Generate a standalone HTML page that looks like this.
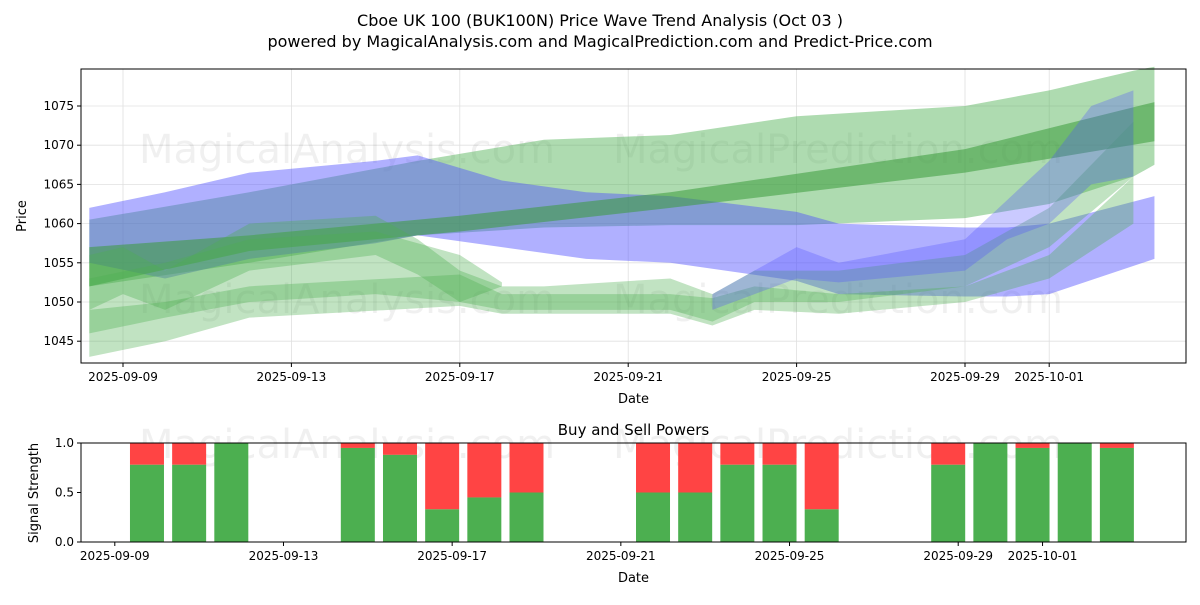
<!DOCTYPE html>
<html><head><meta charset="utf-8"><style>
body{margin:0;background:#fff;font-family:"Liberation Sans","DejaVu Sans",sans-serif}
svg text{font-family:"DejaVu Sans","Liberation Sans",sans-serif}
</style></head><body>
<svg id="c" width="1200" height="600" viewBox="0 0 1200 600">
<text x="600" y="26" text-anchor="middle" font-size="16">Cboe UK 100 (BUK100N) Price Wave Trend Analysis (Oct 03 )</text>
<text x="600" y="47" text-anchor="middle" font-size="16">powered by MagicalAnalysis.com and MagicalPrediction.com and Predict-Price.com</text>
<g id="topPanel"></g>
<g id="botPanel"></g>
</svg>
<script>
// days relative to 2025-09-09
const topTickDays=[0,4,8,12,16,20,22];
const topTickLabels=["2025-09-09","2025-09-13","2025-09-17","2025-09-21","2025-09-25","2025-09-29","2025-10-01"];
const priceTicks=[1045,1050,1055,1060,1065,1070,1075];
const blueWideDays=[-0.8,1,3,6,7,9,11,13,16,17,20,21,22,24.5];
const blueWideUp=[1062,1064,1066.5,1068,1068.7,1065.5,1064,1063.5,1061.5,1060,1059.5,1059.5,1060,1063.5];
const blueWideLo=[1055,1053,1055.5,1057.5,1058.5,1057,1055.5,1055,1052.7,1051,1050.7,1050.7,1051,1055.5];
const greenWideDays=[-0.8,3,7,10,13,16,20,22,24,24.5];
const greenWideUp=[1060.5,1064,1068,1070.7,1071.3,1073.7,1075,1077,1079.5,1080];
const greenWideLo=[1052,1055,1058.5,1059.5,1059.8,1059.8,1060.7,1062.5,1066,1067.5];
const greenMidDays=[-0.8,3,8,13,20,24.5];
const greenMidUp=[1057,1058.5,1061,1064,1069.5,1075.5];
const greenMidLo=[1052,1056.5,1059,1062,1066.5,1070.5];
const greenLowDays=[-0.8,1,3,8,9,13,14,15,17,20,22,24];
const greenLowUp=[1049,1050,1052,1053.5,1051,1051,1050.5,1052,1051,1052,1056,1066];
const greenLowLo=[1043,1045,1048,1049.5,1048.5,1048.5,1047,1049,1048.5,1050,1053,1060];
const greenFillDays=[-0.8,1,3,6,8,9];
const greenFillUp=[1053,1055,1058,1059,1056,1052.5];
const greenFillLo=[1046,1048,1050,1051,1050,1052];
const greenWavDays=[-0.8,0,1,3,6,7,8,9,10,13,14,15,17,20,22,24];
const greenWavUp=[1056,1057,1054,1060,1061,1058,1054,1052,1052,1053,1051,1054,1054,1056,1062,1073];
const greenWavLo=[1049,1051,1049,1054,1056,1053.5,1050,1049,1049,1049,1047.5,1050,1050,1052,1057,1066];
const blueWavDays=[14,16,17,20,21,22,23,24];
const blueWavUp=[1051,1057,1055,1058,1063,1068,1075,1077];
const blueWavLo=[1049,1053,1052.5,1054,1058,1060,1065,1066];
// bottom
const barDays=[1,2,3,6,7,8,9,10,13,14,15,16,17,20,21,22,23,24];
const buyPower=[0.78,0.78,1.0,0.95,0.88,0.33,0.45,0.5,0.5,0.5,0.78,0.78,0.33,0.78,1.0,0.95,1.0,0.95];
const sigTicks=[0,0.5,1.0];
const sigTickLabels=["0.0","0.5","1.0"];

const NS="http://www.w3.org/2000/svg";
function mk(parent,tag,attrs,text){const e=document.createElementNS(NS,tag);for(const k in attrs)e.setAttribute(k,attrs[k]);if(text!==undefined)e.textContent=text;parent.appendChild(e);return e;}
const T={l:81,r:1186,t:69,b:363};
const xT=d=>123+d*42.1;
const yT=v=>302-(v-1050)*7.84;
const topG=document.getElementById('topPanel');
priceTicks.forEach((v,i)=>{
 const g=mk(topG,'line',{x1:T.l,x2:T.r,y1:yT(v),y2:yT(v),stroke:'#e0e0e0','stroke-width':0.8});
 
 
 mk(topG,'line',{x1:T.l-4,x2:T.l,y1:yT(v),y2:yT(v),stroke:'#000'});
 const t=mk(topG,'text',{x:T.l-7,y:yT(v)+4,'text-anchor':'end','font-size':12},String(v));
 
 
});
topTickDays.forEach((d,i)=>{
 const g=mk(topG,'line',{x1:xT(d),x2:xT(d),y1:T.t,y2:T.b,stroke:'#e0e0e0','stroke-width':0.8});
 
 
 mk(topG,'line',{x1:xT(d),x2:xT(d),y1:T.b,y2:T.b+4,stroke:'#000'});
 const t=mk(topG,'text',{x:xT(d),y:T.b+18,'text-anchor':'middle','font-size':12},topTickLabels[i]);
 
 
});
[["MagicalAnalysis.com",347,163],["MagicalPrediction.com",838,163],["MagicalAnalysis.com",347,313],["MagicalPrediction.com",838,313]].forEach(w=>{
 const t=mk(topG,'text',{x:w[1],y:w[2],'text-anchor':'middle','font-size':40,fill:'#000','fill-opacity':0.06},w[0]);
 
 
});
function band(days,up,lo,color,op,name){
 let pts=days.map((d,i)=>xT(d)+','+yT(up[i]));
 pts=pts.concat(days.map((d,i)=>xT(d)+','+yT(lo[i])).reverse());
 const p=mk(topG,'polygon',{points:pts.join(' '),fill:color,'fill-opacity':op});
 
 
}
band(greenWideDays,greenWideUp,greenWideLo,'#4caf50',0.45,'green-wide-band');
band(blueWideDays,blueWideUp,blueWideLo,'#5050ff',0.45,'blue-wide-band');
band(greenMidDays,greenMidUp,greenMidLo,'#3a9a3a',0.55,'green-mid-band');
band(greenFillDays,greenFillUp,greenFillLo,'#4caf50',0.35,'green-fill-band');
band(greenLowDays,greenLowUp,greenLowLo,'#4caf50',0.35,'green-low-band');
band(greenWavDays,greenWavUp,greenWavLo,'#4caf50',0.35,'green-wave-band');
band(blueWavDays,blueWavUp,blueWavLo,'#5050ff',0.3,'blue-wave-band');
mk(topG,'rect',{x:T.l,y:T.t,width:T.r-T.l,height:T.b-T.t,fill:'none',stroke:'#000','stroke-width':1});
let lbl=mk(topG,'text',{x:(T.l+T.r)/2,y:403,'text-anchor':'middle','font-size':13},'Date');


lbl=mk(topG,'text',{x:26,y:216,'text-anchor':'middle','font-size':13,transform:'rotate(-90 26 216)'},'Price');



const B={l:81,r:1186,t:443,b:542};
const xB=d=>104.8+d*42.17;
const yB=v=>B.b-v*(B.b-B.t);
const botG=document.getElementById('botPanel');
[["MagicalAnalysis.com",347,458],["MagicalPrediction.com",838,458]].forEach(w=>{
 const t=mk(botG,'text',{x:w[1],y:w[2],'text-anchor':'middle','font-size':40,fill:'#000','fill-opacity':0.06},w[0]);
 
 
});
barDays.forEach((d,i)=>{
 const x=xB(d)-17;
 const r1=mk(botG,'rect',{x:x,y:yB(1),width:34,height:yB(buyPower[i])-yB(1),fill:'#ff4444'});
 
 
 const r2=mk(botG,'rect',{x:x,y:yB(buyPower[i]),width:34,height:B.b-yB(buyPower[i]),fill:'#4caf50'});
 
 
});
sigTicks.forEach((v,i)=>{
 mk(botG,'line',{x1:B.l-4,x2:B.l,y1:yB(v),y2:yB(v),stroke:'#000'});
 const t=mk(botG,'text',{x:B.l-7,y:yB(v)+4,'text-anchor':'end','font-size':12},sigTickLabels[i]);
 
 
});
topTickDays.forEach((d,i)=>{
 const x=xB(d)+10;
 mk(botG,'line',{x1:x,x2:x,y1:B.b,y2:B.b+4,stroke:'#000'});
 const t=mk(botG,'text',{x:x,y:B.b+18,'text-anchor':'middle','font-size':12},topTickLabels[i]);
 
 
});
mk(botG,'rect',{x:B.l,y:B.t,width:B.r-B.l,height:B.b-B.t,fill:'none',stroke:'#000','stroke-width':1});
lbl=mk(botG,'text',{x:(B.l+B.r)/2,y:435,'text-anchor':'middle','font-size':15},'Buy and Sell Powers');


lbl=mk(botG,'text',{x:(B.l+B.r)/2,y:582,'text-anchor':'middle','font-size':13},'Date');


lbl=mk(botG,'text',{x:38,y:493,'text-anchor':'middle','font-size':13,transform:'rotate(-90 38 493)'},'Signal Strength');


</script>
</body></html>
